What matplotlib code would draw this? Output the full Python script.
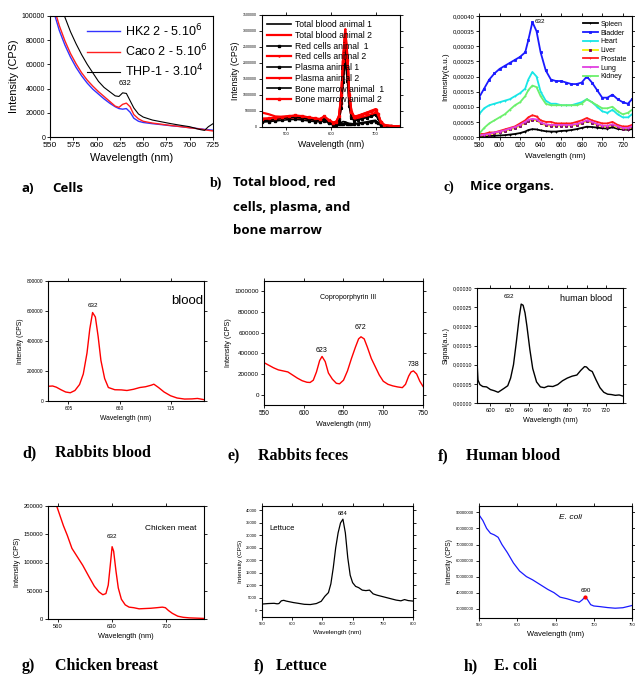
import matplotlib
matplotlib.use("Agg")
import matplotlib.pyplot as plt
from matplotlib.ticker import FuncFormatter, MultipleLocator

plt.rcParams['font.family'] = ['Liberation Sans', 'DejaVu Sans']
plt.rcParams['axes.linewidth'] = 0.8

W, H = 635, 675

# a) cells
wl_a = [550, 555, 560, 566, 572, 578, 584, 590, 596, 602, 608, 614, 620, 624, 628, 632, 636, 640, 645, 650, 660, 670, 680, 690, 700, 707, 712, 716, 720, 725]
hk2 = [118000, 101000, 88000, 76000, 66000, 57500, 50500, 44500, 39500, 35500, 31500, 28000, 25000, 23500, 23000, 23500, 20500, 15500, 13000, 12000, 11000, 10200, 9300, 8600, 7700, 7100, 6700, 6300, 6000, 5600]
caco = [122000, 105000, 92000, 79500, 69000, 60500, 53000, 47000, 42000, 37500, 33500, 29500, 25500, 24500, 27000, 28000, 25000, 18500, 15000, 13000, 11500, 10500, 9500, 8600, 7600, 7000, 6500, 6000, 5500, 5000]
thp1 = [150000, 130000, 113000, 99000, 87000, 77000, 68000, 60000, 53000, 46000, 41000, 37500, 34000, 33500, 36500, 36000, 30000, 24000, 19000, 16500, 14000, 12500, 11000, 9700, 8500, 7000, 6000, 5500, 8500, 11000]

# b) total blood, red cells, plasma, bone marrow
wl_b = [445, 460, 475, 490, 505, 520, 535, 550, 565, 575, 585, 595, 605, 612, 618, 623, 627, 632, 637, 641, 646, 652, 660, 670, 680, 690, 700, 705, 712, 720, 735, 755]
tb1 = [200000, 220000, 250000, 280000, 300000, 310000, 290000, 250000, 220000, 200000, 260000, 150000, 80000, 90000, 110000, 140000, 170000, 160000, 130000, 110000, 100000, 100000, 120000, 140000, 160000, 190000, 210000, 150000, 60000, 30000, 20000, 10000]
tb2 = [450000, 400000, 330000, 320000, 330000, 340000, 320000, 280000, 250000, 230000, 300000, 200000, 120000, 140000, 300000, 900000, 2000000, 3000000, 2100000, 1000000, 450000, 300000, 320000, 380000, 420000, 480000, 540000, 400000, 150000, 50000, 30000, 20000]
rc1 = [180000, 200000, 230000, 270000, 300000, 320000, 300000, 260000, 230000, 210000, 280000, 170000, 100000, 120000, 250000, 750000, 1700000, 2600000, 1800000, 800000, 350000, 250000, 260000, 300000, 330000, 370000, 420000, 300000, 110000, 40000, 25000, 15000]
rc2 = [250000, 260000, 280000, 300000, 330000, 350000, 330000, 290000, 260000, 240000, 320000, 210000, 130000, 160000, 330000, 950000, 2100000, 3050000, 2200000, 1050000, 480000, 330000, 350000, 400000, 450000, 500000, 560000, 420000, 160000, 60000, 30000, 20000]
pl1 = [150000, 170000, 190000, 210000, 230000, 240000, 220000, 190000, 170000, 160000, 200000, 120000, 70000, 75000, 85000, 95000, 105000, 110000, 100000, 95000, 90000, 90000, 100000, 120000, 130000, 150000, 170000, 120000, 50000, 25000, 15000, 10000]
pl2 = [220000, 230000, 250000, 270000, 290000, 300000, 280000, 250000, 220000, 200000, 270000, 170000, 100000, 110000, 220000, 650000, 1500000, 2200000, 1600000, 750000, 320000, 220000, 250000, 300000, 340000, 390000, 450000, 330000, 120000, 40000, 25000, 15000]
bm1 = [190000, 210000, 240000, 270000, 290000, 300000, 280000, 240000, 210000, 190000, 240000, 140000, 90000, 100000, 200000, 600000, 1400000, 2100000, 1450000, 650000, 280000, 200000, 220000, 260000, 290000, 330000, 380000, 280000, 100000, 35000, 20000, 10000]
bm2 = [260000, 270000, 290000, 310000, 340000, 360000, 340000, 300000, 270000, 250000, 330000, 220000, 140000, 170000, 350000, 1000000, 2050000, 2900000, 2100000, 1000000, 460000, 320000, 340000, 390000, 440000, 490000, 530000, 410000, 150000, 55000, 30000, 20000]
b_series = [
    ("Total blood animal 1", tb1, "black", None),
    ("Total blood animal 2", tb2, "red", None),
    ("Red cells animal  1", rc1, "black", "s"),
    ("Red cells animal 2", rc2, "red", "+"),
    ("Plasma animal 1", pl1, "black", "s"),
    ("Plasma animal 2", pl2, "red", "+"),
    ("Bone marrow animal  1", bm1, "black", "*"),
    ("Bone marrow animal 2", bm2, "red", "s"),
]

# c) mice organs (units of 1e-5)
wl_c = [580, 585, 590, 595, 600, 605, 610, 615, 620, 625, 628, 632, 636, 640, 645, 650, 655, 660, 665, 670, 675, 680, 685, 690, 695, 700, 705, 710, 715, 720, 725, 729]
spleen = [0.3, 0.3, 0.3, 0.4, 0.5, 0.6, 0.8, 1, 1.3, 1.8, 2.3, 2.6, 2.5, 2.2, 1.9, 1.8, 1.8, 2, 2.1, 2.3, 2.6, 3, 3.4, 3.3, 3.1, 2.9, 2.8, 3.2, 2.7, 2.5, 2.4, 2.6]
bladder = [13, 16, 19, 21, 22.5, 23.5, 24.5, 25.5, 26.5, 28, 32, 38, 35, 28, 22, 19, 18.5, 18.5, 18, 17.5, 17.5, 18, 20, 18, 15.5, 13, 13, 14, 12.5, 11.5, 11, 12.5]
heart = [7.5, 9.5, 10.5, 11, 11.5, 12, 12.5, 13.5, 14.5, 16, 19, 21.5, 20, 15, 12, 11, 11, 10.5, 10.5, 10.5, 11, 11.5, 12.5, 11.5, 10, 8.5, 8, 9, 7.5, 6.5, 6.5, 7.5]
liver = [0.4, 0.6, 0.8, 1.2, 1.6, 2, 2.5, 3, 3.7, 4.6, 5.3, 5.7, 5.5, 4.5, 3.9, 3.7, 3.7, 3.8, 3.8, 3.8, 4, 4.5, 5.2, 4.7, 4, 3.5, 3.4, 3.9, 3.2, 2.8, 2.8, 3.2]
prostate = [1, 1, 1.5, 1.5, 2, 2.5, 3, 3.5, 4.5, 5.5, 6.5, 7.2, 6.8, 5.5, 5, 5, 4.5, 4.5, 4.5, 4.5, 5, 5.5, 6.3, 5.5, 5, 4.5, 4.5, 5, 4, 3.5, 3.5, 4]
lung = [0.5, 0.8, 1, 1.5, 1.8, 2.2, 2.8, 3.3, 4, 5, 5.7, 6, 5.8, 4.8, 4.2, 4, 4, 4, 4, 4, 4.3, 4.8, 5.5, 5, 4.3, 3.8, 3.7, 4.2, 3.5, 3, 3, 3.5]
kidney = [1, 3, 4.5, 5.5, 6.5, 7.5, 9, 10.5, 11.5, 13.5, 15.5, 17, 16.5, 13.5, 11, 10.5, 10.5, 10.5, 10.5, 10.5, 10.5, 11, 12.5, 11.5, 10.5, 9.5, 9.5, 10, 8.5, 7.5, 8, 9]
c_series = [
    ("Spleen", spleen, "black", "+", "black"),
    ("Bladder", bladder, "#1a1aff", "s", "#1a1aff"),
    ("Heart", heart, "#19e6e6", "+", "#19e6e6"),
    ("Liver", liver, "#f0f000", "s", "#700050"),
    ("Prostate", prostate, "#ff1a1a", "+", "#ff1a1a"),
    ("Lung", lung, "#e040e0", "+", "#e040e0"),
    ("Kidney", kidney, "#6cf06c", "+", "#6cf06c"),
]

# d) rabbits blood
wl_d = [583, 588, 592, 597, 602, 607, 612, 617, 621, 625, 628, 631, 634, 637, 640, 644, 648, 655, 662, 668, 675, 682, 688, 694, 697, 702, 708, 715, 722, 730, 738, 744, 751]
int_d = [98000, 100000, 92000, 75000, 60000, 55000, 70000, 110000, 180000, 320000, 480000, 590000, 560000, 430000, 270000, 150000, 90000, 75000, 74000, 70000, 78000, 90000, 95000, 105000, 112000, 90000, 60000, 35000, 20000, 13000, 14000, 17000, 9000]

# e) rabbits feces
wl_e = [550, 556, 562, 568, 574, 580, 586, 592, 598, 604, 608, 612, 616, 620, 623, 627, 631, 636, 641, 645, 650, 655, 660, 665, 669, 672, 676, 680, 685, 690, 695, 700, 706, 712, 718, 724, 728, 732, 735, 738, 742, 746, 750]
int_e = [310000, 285000, 260000, 240000, 230000, 220000, 190000, 160000, 135000, 120000, 118000, 140000, 220000, 330000, 370000, 320000, 210000, 150000, 110000, 105000, 140000, 230000, 350000, 460000, 540000, 560000, 540000, 460000, 350000, 270000, 190000, 130000, 100000, 85000, 75000, 68000, 100000, 180000, 220000, 230000, 200000, 130000, 80000]

# f) human blood (units of 1e-5)
wl_f = [586, 587, 589, 592, 596, 600, 604, 608, 611, 614, 618, 621, 624, 627, 630, 632, 634, 636, 638, 641, 644, 648, 652, 656, 660, 665, 670, 675, 680, 685, 690, 694, 698, 700, 703, 706, 710, 714, 718, 722, 726, 730, 734, 738]
sig_f = [11, 6, 4.8, 4.3, 4.2, 3.5, 3.2, 2.8, 3.3, 3.8, 4.5, 6.5, 10, 16, 22.5, 25.8, 25.5, 23.5, 20, 14, 9, 5.5, 4.2, 4, 4.4, 4.3, 4.8, 5.8, 6.5, 7, 7.3, 8.5, 9.5, 9.4, 8.6, 8.2, 6, 4, 2.8, 2.3, 2.2, 2, 2.1, 1.8]

# g) chicken breast
wl_g = [547, 552, 557, 562, 567, 572, 578, 585, 592, 600, 607, 613, 618, 622, 625, 628, 630, 632, 635, 638, 642, 647, 652, 658, 665, 672, 680, 688, 695, 699, 703, 708, 715, 722, 730, 740, 749]
int_g = [260000, 230000, 205000, 185000, 165000, 148000, 125000, 110000, 95000, 75000, 58000, 48000, 43000, 45000, 60000, 100000, 128000, 120000, 85000, 55000, 35000, 25000, 21000, 20000, 18000, 18500, 19000, 20000, 21000, 20000, 15000, 10000, 5000, 3000, 2000, 1500, 1000]

# f) lettuce
wl_l = [550, 560, 570, 575, 578, 582, 586, 590, 596, 602, 610, 620, 630, 640, 648, 654, 660, 664, 668, 672, 676, 680, 684, 688, 692, 696, 700, 705, 710, 716, 722, 728, 734, 740, 748, 756, 764, 772, 780, 786, 792, 800]
int_l = [2400, 2600, 2700, 2500, 2600, 3700, 3900, 3600, 3300, 3000, 2700, 2300, 2200, 2600, 3500, 5500, 7000, 10500, 17000, 25000, 31000, 35000, 36500, 31000, 21000, 14000, 11000, 9500, 9000, 8000, 7800, 8000, 6500, 6000, 5500, 5000, 4500, 4000, 3700, 4200, 3800, 3600]

# h) E. coli (units of 1e7)
wl_h = [550, 555, 560, 565, 570, 575, 580, 587, 595, 603, 612, 620, 630, 640, 648, 656, 665, 672, 677, 681, 685, 689, 692, 696, 700, 708, 718, 728, 738, 745, 750]
int_h = [8.85, 8.5, 8.0, 7.7, 7.6, 7.45, 7.0, 6.5, 5.85, 5.35, 5.0, 4.8, 4.5, 4.2, 4.0, 3.72, 3.62, 3.52, 3.45, 3.4, 3.55, 3.75, 3.55, 3.25, 3.17, 3.13, 3.07, 3.03, 3.06, 3.14, 3.2]

fig = plt.figure(figsize=(W / 100, H / 100), dpi=100)


def ax_px(l, t, r, b):
    return fig.add_axes([l / W, 1 - b / H, (r - l) / W, (b - t) / H])


def style(ax, xs, ys, lab):
    ax.tick_params(axis='x', labelsize=xs, length=2, width=0.6, pad=1.5, top=True)
    ax.tick_params(axis='y', labelsize=ys, length=2, width=0.6, pad=1.5, right=True)
    ax.set_xlabel("Wavelength (nm)", fontsize=lab, labelpad=3)


def comma(dec):
    return FuncFormatter(lambda v, p: f"{v:.{dec}f}".replace('.', ','))


plain = FuncFormatter(lambda v, p: f"{v:.0f}")

# a
ax = ax_px(50, 16, 213, 137)
ax.plot(wl_a, hk2, color="#3333ff", lw=1.0, label="HK2 2 - 5.10$^6$")
ax.plot(wl_a, caco, color="#ff2020", lw=1.0, label="Caco 2 - 5.10$^6$")
ax.plot(wl_a, thp1, color="black", lw=0.8, label="THP-1 - 3.10$^4$")
ax.set_xlim(550, 725)
ax.set_ylim(0, 100000)
ax.xaxis.set_major_locator(MultipleLocator(25))
ax.yaxis.set_major_locator(MultipleLocator(20000))
style(ax, 6, 5, 7.8)
ax.tick_params(top=False, right=False)
ax.set_ylabel("Intensity (CPS)", fontsize=7.8, labelpad=2)
ax.text(630, 43000, "632", fontsize=5.5, ha='center')
ax.legend(loc='upper right', fontsize=9, frameon=False, handlelength=2.6,
          borderaxespad=0.1, labelspacing=0.3, handletextpad=0.4)

# b
ax = ax_px(262, 15, 400, 127)
for name, vals, col, mk in b_series:
    ax.plot(wl_b, vals, color=col, lw=1.6 if col == "red" else 1.2, marker=mk,
            markersize=2, label=name)
ax.set_xlim(445, 755)
ax.set_ylim(0, 3500000)
ax.xaxis.set_major_locator(MultipleLocator(100))
ax.yaxis.set_major_locator(MultipleLocator(500000))
ax.yaxis.set_major_formatter(plain)
style(ax, 3, 2.5, 6.3)
ax.set_ylabel("Intensity (CPS)", fontsize=6.2, labelpad=2)
ax.legend(loc='upper left', fontsize=6.2, frameon=False, handlelength=2.8,
          borderaxespad=0.2, labelspacing=0.2, handletextpad=0.4)

# c
ax = ax_px(479, 16, 632, 137)
for name, vals, col, mk, mcol in c_series:
    ax.plot(wl_c, [v * 1e-5 for v in vals], color=col, lw=1.3, marker=mk,
            markersize=2, markeredgecolor=mcol, markerfacecolor=mcol,
            markeredgewidth=0.6, label=name)
ax.set_xlim(580, 729)
ax.set_ylim(0, 0.0004)
ax.xaxis.set_major_locator(MultipleLocator(20))
ax.yaxis.set_major_locator(MultipleLocator(0.00005))
ax.yaxis.set_major_formatter(comma(5))
style(ax, 4.8, 4.3, 5.8)
ax.set_ylabel("Intensity(a.u.)", fontsize=5.8, labelpad=2)
ax.text(639, 0.000378, "632", fontsize=4.5, ha='center')
ax.legend(loc='upper right', fontsize=5, frameon=False, handlelength=2.2,
          borderaxespad=0.3, labelspacing=0.25, handletextpad=0.4)

# d
ax = ax_px(48, 281, 204, 401)
ax.plot(wl_d, int_d, color="red", lw=1.0)
ax.set_xlim(583, 751)
ax.set_ylim(0, 800000)
ax.set_xticks([605, 660, 715])
ax.yaxis.set_major_locator(MultipleLocator(200000))
style(ax, 3.5, 3.5, 4.9)
ax.set_ylabel("Intensity (CPS)", fontsize=4.9, labelpad=2)
ax.text(631, 625000, "632", fontsize=4.5, ha='center')
ax.text(716, 650000, "blood", fontsize=9.5)

# e
ax = ax_px(264, 281, 423, 405)
ax.plot(wl_e, int_e, color="red", lw=1.0)
ax.set_xlim(550, 750)
ax.set_ylim(-100000, 1100000)
ax.xaxis.set_major_locator(MultipleLocator(50))
ax.yaxis.set_major_locator(MultipleLocator(200000))
ax.yaxis.set_major_formatter(plain)
style(ax, 4.7, 4.5, 5.2)
ax.set_ylabel("Intensity (CPS)", fontsize=5.2, labelpad=2)
ax.text(623, 415000, "623", fontsize=5, ha='center')
ax.text(672, 640000, "672", fontsize=5, ha='center')
ax.text(738, 275000, "738", fontsize=5, ha='center')
ax.text(656, 930000, "Coproporphyrin III", fontsize=5, ha='center')

# f human blood
ax = ax_px(477, 288, 623, 403)
ax.plot(wl_f, [v * 1e-5 for v in sig_f], color="black", lw=1.0)
ax.set_xlim(586, 738)
ax.set_ylim(0, 0.0003)
ax.xaxis.set_major_locator(MultipleLocator(20))
ax.yaxis.set_major_locator(MultipleLocator(0.00005))
ax.yaxis.set_major_formatter(comma(5))
style(ax, 4.2, 3.8, 5.2)
ax.set_ylabel("Signal(a.u.)", fontsize=5.2, labelpad=2)
ax.text(619, 0.000274, "632", fontsize=4.5, ha='center')
ax.text(700, 0.000266, "human blood", fontsize=6.5, ha='center')

# g chicken
ax = ax_px(48, 506, 204, 619)
ax.plot(wl_g, int_g, color="red", lw=1.0)
ax.set_xlim(547, 749)
ax.set_ylim(0, 200000)
ax.set_xticks([560, 630, 700])
ax.yaxis.set_major_locator(MultipleLocator(50000))
style(ax, 4.2, 4.2, 5.3)
ax.set_ylabel("Intensity (CPS)", fontsize=5.3, labelpad=2)
ax.text(630, 144000, "632", fontsize=4.5, ha='center')
ax.text(706, 158000, "Chicken meat", fontsize=6, ha='center')

# f lettuce
ax = ax_px(262, 506, 413, 617)
ax.plot(wl_l, int_l, color="black", lw=0.9)
ax.set_xlim(550, 800)
ax.set_ylim(-2800, 41800)
ax.xaxis.set_major_locator(MultipleLocator(50))
ax.yaxis.set_major_locator(MultipleLocator(5000))
style(ax, 3, 3, 4.6)
ax.set_ylabel("Intensity (CPS)", fontsize=4.6, labelpad=2)
ax.text(684, 38000, "684", fontsize=4.2, ha='center')
ax.text(583, 32000, "Lettuce", fontsize=5.5, ha='center')

# h E. coli
ax = ax_px(479, 506, 632, 618)
ax.plot(wl_h, [v * 1e7 for v in int_h], color="#1a1aff", lw=0.9)
ax.plot([689], [3.75e7], 'o', color="red", markersize=2)
ax.set_xlim(550, 750)
ax.set_ylim(2.42e7, 9.4e7)
ax.xaxis.set_major_locator(MultipleLocator(50))
ax.yaxis.set_major_locator(MultipleLocator(1e7))
ax.yaxis.set_major_formatter(plain)
style(ax, 3, 3, 5.4)
ax.set_ylabel("Intensity (CPS)", fontsize=4.8, labelpad=2)
ax.text(689, 4.05e7, "690", fontsize=4.5, ha='center')
ax.text(670, 8.6e7, "E. coli", fontsize=6, ha='center', style='italic')

# captions
sans_b = dict(family=['Open Sans', 'DejaVu Sans'], fontweight='bold', fontsize=9.5, va='center')
serif_b = dict(family=['Liberation Serif', 'DejaVu Serif'], fontweight='bold', fontsize=11.5, va='center')


def cap(x, y, s, **kw):
    fig.text(x / W, 1 - y / H, s, **kw)


cap(22, 188, "a)", **sans_b)
cap(52, 188, "Cells", **sans_b)
cap(210, 183, "b)", **dict(serif_b, fontsize=10))
cap(233, 183, "Total blood, red", **sans_b)
cap(233, 207, "cells, plasma, and", **sans_b)
cap(233, 231, "bone marrow", **sans_b)
cap(443, 187, "c)", **dict(serif_b, fontsize=10))
cap(470, 187, "Mice organs.", **sans_b)

cap(22, 453, "d)", **serif_b)
cap(55, 453, "Rabbits blood", **serif_b)
cap(228, 456, "e)", **serif_b)
cap(258, 456, "Rabbits feces", **serif_b)
cap(438, 456, "f)", **serif_b)
cap(466, 456, "Human blood", **serif_b)

cap(22, 666, "g)", **serif_b)
cap(55, 666, "Chicken breast", **serif_b)
cap(254, 666, "f)", **serif_b)
cap(276, 666, "Lettuce", **serif_b)
cap(464, 666, "h)", **serif_b)
cap(494, 666, "E. coli", **serif_b)

fig.savefig("out.png", dpi=100)
